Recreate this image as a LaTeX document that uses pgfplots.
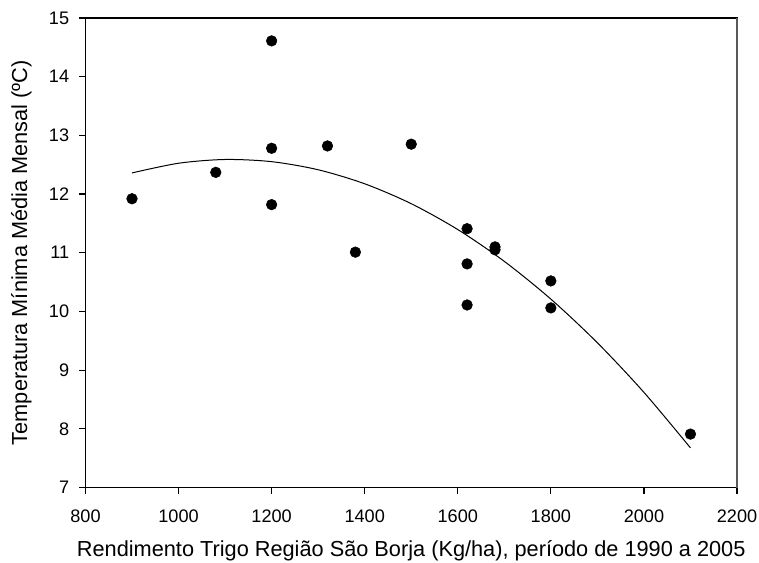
\documentclass[border=0pt]{standalone}
\usepackage{pgfplots}
\pgfplotsset{compat=1.18}
\usepackage{fontspec}
\setmainfont{Liberation Sans}

\begin{document}
\begin{tikzpicture}
\begin{axis}[
  scale only axis,
  width=488.6pt, height=352.1pt,
  xmin=800, xmax=2200, ymin=7, ymax=15,
  xtick={800,1000,...,2200}, ytick={7,8,...,15},
  tick pos=left, tick align=outside,
  major tick length=4.5pt,
  axis line style={line width=0.9pt},
  every tick/.style={black, line width=0.9pt},
  /pgf/number format/assume math mode=true,
  /pgf/number format/1000 sep={},
  tick label style={font=\fontsize{13.6}{16}\selectfont},
  xticklabel style={yshift=-8.8pt},
  yticklabel style={xshift=-4.2pt},
  label style={font=\fontsize{16.3}{19}\selectfont, inner sep=0pt},
  xlabel style={at={(axis description cs:0.5,0)}, anchor=base, yshift=-52.1pt},
  ylabel style={at={(axis description cs:-0.0982,0.5)}, anchor=center},
  xlabel={Rendimento Trigo Região São Borja (Kg/ha), período de 1990 a 2005},
  ylabel={Temperatura Mínima Média Mensal (ºC)},
  clip=false,
]
% observed points
\addplot[only marks, mark=*, mark size=4pt, black] coordinates {
  (900,11.92) (1080,12.37) (1200,14.61) (1200,12.78) (1200,11.82)
  (1320,12.82) (1380,11.01) (1500,12.85) (1620,11.41) (1620,10.81)
  (1620,10.11) (1680,11.10) (1680,11.05) (1800,10.52) (1800,10.06)
  (2100,7.91)
};
% fitted quadratic regression
\addplot[black, line width=0.75pt, smooth] coordinates {
  (900,12.36) (1000,12.525) (1100,12.589) (1200,12.552) (1300,12.414)
  (1400,12.175) (1500,11.836) (1600,11.395) (1700,10.853) (1800,10.210)
  (1900,9.466) (2000,8.621) (2100,7.675)
};
% right frame line is grey in the original
\draw[black!65, line width=1.3pt] (rel axis cs:1,0) -- (rel axis cs:1,1);
\end{axis}
\pgfresetboundingbox
\path ([shift={(-64.1pt,-55.9pt)}]current axis.south west) rectangle
      ([shift={(16.5pt,13.5pt)}]current axis.north east);
\end{tikzpicture}
\end{document}
